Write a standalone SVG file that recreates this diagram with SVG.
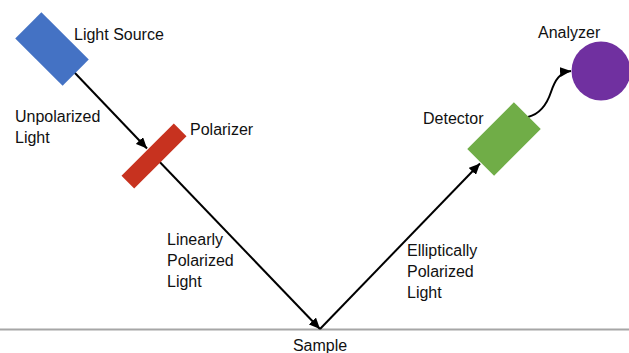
<svg xmlns="http://www.w3.org/2000/svg" width="629" height="353" viewBox="0 0 629 353">
<defs>
<marker id="ah" markerUnits="userSpaceOnUse" markerWidth="12" markerHeight="10" refX="11" refY="5" orient="auto">
<path d="M0,0 L11,5 L0,10 Z" fill="#000"/>
</marker>
<style>
text{font-family:"Liberation Sans",Arial,sans-serif;font-size:16px;fill:#111}
.ln{stroke:#000;stroke-width:2;fill:none}
</style>
</defs>
<rect width="629" height="353" fill="#fff"/>
<line x1="0" y1="329.5" x2="629" y2="329.5" stroke="#a6a6a6" stroke-width="2"/>
<g id="connectors">
<line class="ln" x1="74" y1="72" x2="147" y2="148.5" marker-end="url(#ah)"/>
<line class="ln" x1="154" y1="156" x2="320" y2="329" marker-end="url(#ah)"/>
<line class="ln" x1="320" y1="329" x2="480" y2="163.5" marker-end="url(#ah)"/>
<path class="ln" d="M528,117 C540,114 547,104 551,92 S560,72 571,71" marker-end="url(#ah)"/>
</g>
<g id="light-source">
<rect x="-33.5" y="-18.5" width="67" height="37" fill="#4472c4" transform="translate(52,49) rotate(45)"/>
<text x="74" y="40">Light Source</text>
</g>
<g id="polarizer">
<rect x="-37" y="-9" width="74" height="18" fill="#c7321f" transform="translate(154,156) rotate(-45)"/>
<text x="190" y="135">Polarizer</text>
</g>
<g id="detector">
<rect x="-33" y="-19" width="66" height="38" fill="#70ad47" transform="translate(504,139) rotate(-45)"/>
<text x="423" y="124">Detector</text>
</g>
<g id="analyzer">
<circle cx="601" cy="71" r="29.5" fill="#7030a0"/>
<text x="538" y="38">Analyzer</text>
</g>
<g id="sample">
<text x="320" y="351" text-anchor="middle">Sample</text>
</g>
<g id="labels">
<text x="15" y="122">Unpolarized</text>
<text x="15" y="143">Light</text>
<text x="167" y="245">Linearly</text>
<text x="167" y="266">Polarized</text>
<text x="167" y="287">Light</text>
<text x="407" y="256">Elliptically</text>
<text x="407" y="277">Polarized</text>
<text x="407" y="298">Light</text>
</g>
</svg>
